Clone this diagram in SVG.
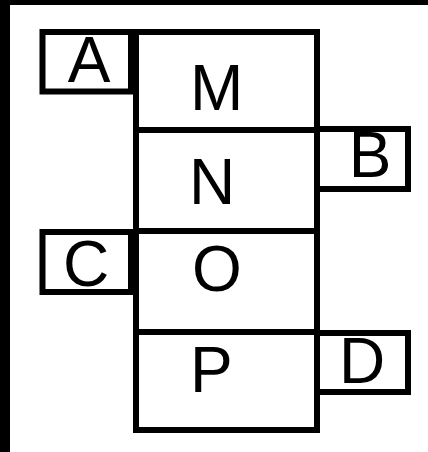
<svg xmlns="http://www.w3.org/2000/svg" width="428" height="452" viewBox="0 0 428 452">
  <style>
    .box { fill: #ffffff; stroke: #000000; stroke-width: 6; }
    .lbl { font-family: "Liberation Sans", Arial, sans-serif; font-size: 64px; fill: #000000; }
    .mid { text-anchor: middle; }
  </style>
  <rect x="0" y="0" width="428" height="452" fill="#000000"/>
  <rect x="10" y="5" width="418" height="447" fill="#ffffff"/>
  <g id="node-M">
    <rect class="box" x="136" y="32" width="181" height="98"/>
    <text class="lbl" x="190" y="110">M</text>
  </g>
  <g id="node-N">
    <rect class="box" x="136" y="130" width="181" height="101"/>
    <text class="lbl" x="189" y="204">N</text>
  </g>
  <g id="node-O">
    <rect class="box" x="136" y="231" width="181" height="101"/>
    <text class="lbl" x="192" y="291">O</text>
  </g>
  <g id="node-P">
    <rect class="box" x="136" y="332" width="181" height="98"/>
    <text class="lbl" x="190" y="392">P</text>
  </g>
  <g id="node-A">
    <rect class="box" x="42.5" y="32" width="88.5" height="59.5"/>
    <text class="lbl mid" x="89" y="82">A</text>
  </g>
  <g id="node-B">
    <rect class="box" x="317" y="129" width="91" height="60"/>
    <text class="lbl mid" x="370" y="177">B</text>
  </g>
  <g id="node-C">
    <rect class="box" x="42.5" y="232" width="88.5" height="60"/>
    <text class="lbl mid" x="86" y="286">C</text>
  </g>
  <g id="node-D">
    <rect class="box" x="317" y="333" width="91" height="59"/>
    <text class="lbl mid" x="362" y="383">D</text>
  </g>
  <g id="connectors"/>
</svg>
